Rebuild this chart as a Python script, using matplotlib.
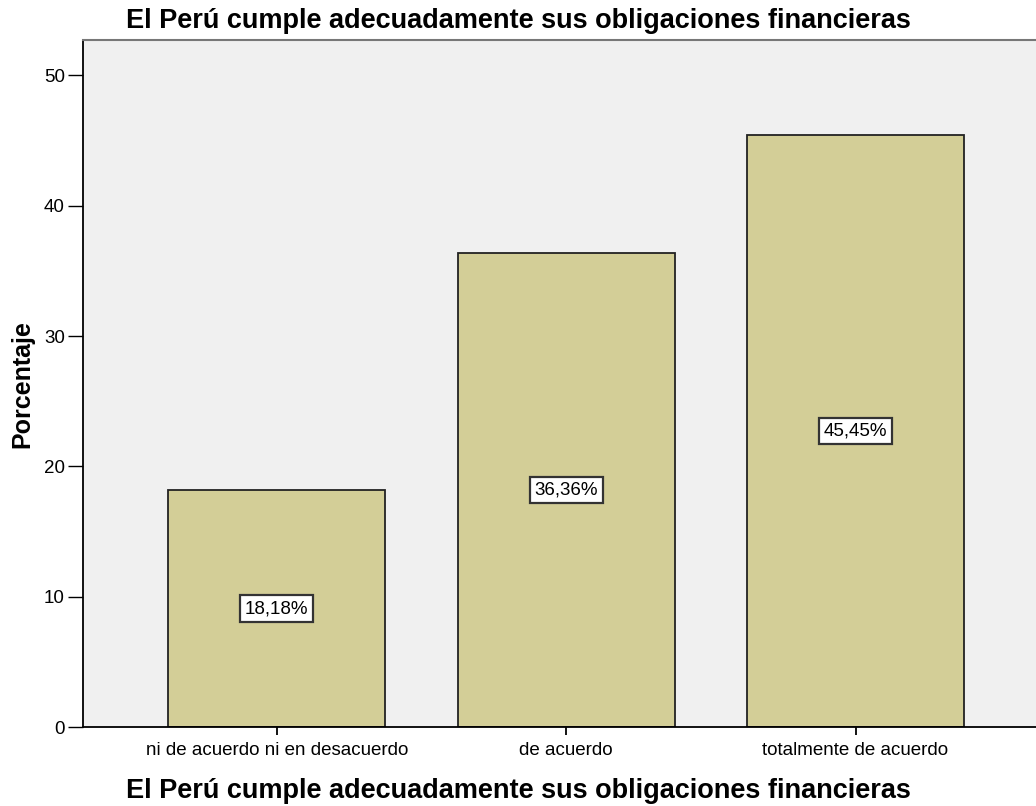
import matplotlib.pyplot as plt

categorias = ["ni de acuerdo ni en desacuerdo", "de acuerdo", "totalmente de acuerdo"]
porcentajes = [18.18, 36.36, 45.45]
etiquetas = ["18,18%", "36,36%", "45,45%"]
titulo = "El Perú cumple adecuadamente sus obligaciones financieras"

plt.rcParams['font.family'] = ['Liberation Sans', 'DejaVu Sans']

fig = plt.figure(figsize=(10.36, 8.06), dpi=100)
ax = fig.add_axes([0.0801, 0.098, 0.93, 0.852])
ax.set_facecolor('#F0F0F0')

x = list(range(len(categorias)))
ax.bar(x, porcentajes, width=0.75, color='#D3CE97', edgecolor='#222222', linewidth=1.3, zorder=2)

for xi, v, t in zip(x, porcentajes, etiquetas):
    ax.text(xi, v / 2, t, ha='center', va='center', fontsize=13.5, zorder=3,
            bbox=dict(boxstyle='square,pad=0.25', facecolor='white', edgecolor='#333333', linewidth=1.6))

ax.set_xlim(-0.67, 2.66)
ax.set_ylim(0, 52.7)
ax.set_yticks([0, 10, 20, 30, 40, 50])
ax.set_xticks(x)
ax.set_xticklabels(categorias, fontsize=13.5)
ax.tick_params(axis='y', length=11, width=1, labelsize=13.5, pad=2)
ax.tick_params(axis='x', length=6, width=1.3, direction='out', pad=5)

ax.spines['right'].set_visible(False)
ax.spines['top'].set_color('#777777')
ax.spines['top'].set_linewidth(1.5)
ax.spines['left'].set_linewidth(1.3)
ax.spines['bottom'].set_linewidth(1.3)

# titulo arriba y etiqueta del eje x, ambos centrados en la figura
fig.text(0.5, 1 - 28 / 806, titulo, ha='center', va='baseline', fontsize=19.5, fontweight='bold')
fig.text(0.5, 8 / 806, titulo, ha='center', va='baseline', fontsize=19.5, fontweight='bold')
ax.set_ylabel("Porcentaje", fontsize=18, fontweight='bold', labelpad=7)

fig.savefig('out.png', dpi=100)
